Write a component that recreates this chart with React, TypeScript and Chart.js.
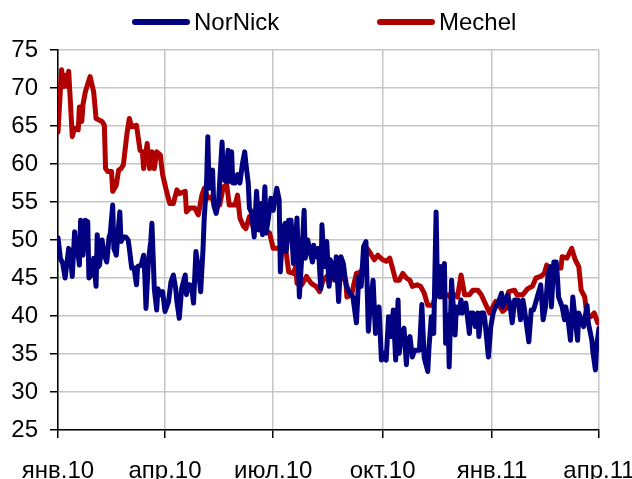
import React, { useEffect, useRef } from 'react';
import { Chart, registerables } from 'chart.js';

Chart.register(...registerables);

// x values are days counted from 1 Jan 2010
const TICK_DAYS = [0, 90, 181, 273, 365, 455];
const TICK_LABELS = ['янв.10', 'апр.10', 'июл.10', 'окт.10', 'янв.11', 'апр.11'];

const SERIES_NAMES = ['NorNick', 'Mechel'];

const NOR_DAYS = [
  0, 2, 4, 6, 7, 9, 11, 12, 14, 15, 17, 18, 19, 21, 23, 25, 26, 28, 30, 32,
  33, 34, 35, 37, 39, 41, 43, 44, 46, 47, 49, 51, 52, 53, 55, 57, 59, 60, 62, 64,
  66, 67, 70, 72, 73, 74, 76, 78, 79, 81, 83, 84, 86, 88, 90, 93, 95, 97, 99, 100,
  102, 104, 107, 108, 109, 111, 113, 114, 116, 118, 120, 122, 123, 125, 126, 127, 130, 131, 133, 135,
  138, 139, 141, 143, 144, 146, 147, 149, 151, 153, 155, 157, 158, 160, 161, 163, 165, 167, 169, 171,
  172, 174, 175, 177, 179, 181, 182, 184, 186, 187, 189, 191, 192, 194, 196, 198, 199, 201, 203, 205,
  207, 208, 210, 212, 214, 215, 217, 219, 221, 222, 224, 226, 228, 229, 231, 233, 234, 236, 238, 240,
  242, 244, 248, 251, 253, 255, 257, 259, 261, 263, 265, 267, 269, 270, 272, 274, 276, 278, 280, 282,
  284, 286, 287, 289, 291, 293, 294, 296, 298, 300, 304, 306, 308, 311, 312, 314, 315, 316, 318, 319,
  321, 322, 323, 325, 326, 328, 329, 331, 332, 334, 335, 337, 339, 340, 343, 346, 347, 349, 351, 353,
  354, 356, 358, 359, 362, 364, 366, 368, 370, 372, 373, 374, 378, 380, 382, 384, 387, 389, 391, 392,
  396, 398, 400, 404, 406, 408, 410, 412, 414, 415, 417, 419, 420, 421, 424, 426, 427, 429, 431, 433,
  435, 437, 438, 440, 442, 445, 446, 449, 450, 452, 453, 455,
];
const NOR_VALUES = [
  50.3, 47.6, 46.9, 45, 46.3, 48.9, 47.1, 45.2, 51.1, 49.3, 48, 46.7, 52.6, 48, 52.6, 52.4, 45, 45.4, 47.6, 43.9,
  50.7, 46.5, 46.7, 50, 48, 47.1, 50.4, 50.9, 54.6, 48.9, 48, 51.9, 53.7, 49.8, 50.4, 50.4, 50, 48.9, 46.3, 46.3,
  44.1, 46.5, 46.7, 48, 45.4, 41, 47.1, 49.8, 52.2, 43.6, 40.8, 43.6, 42.8, 43.2, 40.6, 41.9, 44.5, 45.4, 43.6, 41.9,
  39.7, 43.6, 45.4, 42.8, 44.1, 44.1, 43, 41.7, 48.5, 46.3, 43.2, 48.9, 52.9, 57.7, 63.6, 56.8, 59.2, 54.6, 53.5, 55,
  62.9, 58.1, 57.7, 61.8, 57.7, 61.6, 57.5, 57.5, 58.6, 57.5, 59.9, 61.6, 60.1, 57.5, 54.2, 53.5, 50.4, 56.4, 51.3, 54.8,
  50.7, 57, 50.9, 52.9, 55.5, 53.9, 55, 56.8, 55.3, 45.8, 51.3, 52.2, 48.5, 52.6, 52.6, 46.9, 48.2, 52.9, 42.5, 47.8,
  53.9, 47.6, 50, 48.5, 47.1, 49.3, 47.8, 48.9, 43.6, 52, 46.5, 49.8, 43.9, 47.4, 46.5, 44.7, 47.8, 41.9, 47.8, 46.9,
  44.3, 43.4, 42.5, 39.1, 45.2, 43.9, 49.1, 49.8, 38, 42.1, 44.7, 37.7, 39.1, 41.2, 34.2, 35.1, 34.2, 39.9, 37.3, 40.8,
  34.2, 42.1, 35.1, 37.7, 38.4, 33.6, 36.8, 37.3, 34.6, 35.5, 35.5, 41.5, 34.5, 32.7, 35.8, 39.9, 38.2, 37.7, 53.7, 44.7,
  42.5, 46.5, 43.9, 46.9, 36.4, 40.1, 33.3, 44.7, 42.3, 37.5, 41.2, 40.4, 42.1, 40.4, 41.7, 37.7, 40.4, 40.4, 38.6, 40.4,
  37.3, 40.4, 40.4, 39.5, 34.6, 38.6, 40.4, 41.2, 41.7, 42.5, 43, 41.2, 42.8, 41.7, 39.1, 42.1, 42.1, 39.5, 42.1, 41.2,
  36.6, 40.8, 40.8, 43, 44.1, 39.5, 41.2, 45.2, 46.5, 41.2, 47.1, 47.1, 45.2, 42.5, 41.2, 39.5, 41.2, 39.5, 36.8, 42.5,
  39.5, 36.8, 40.4, 39.5, 38.6, 41.4, 39.1, 36.8, 35.1, 32.9, 36, 38.4,
];

const MEC_DAYS = [
  0, 3, 5, 7, 8, 9, 12, 14, 17, 18, 20, 21, 23, 27, 30, 32, 37, 39, 40, 42,
  45, 46, 49, 51, 53, 55, 58, 60, 62, 66, 69, 71, 72, 75, 77, 79, 81, 83, 86, 88,
  91, 94, 97, 100, 102, 107, 108, 111, 115, 118, 121, 123, 126, 129, 132, 136, 139, 142, 144, 149,
  151, 153, 156, 158, 161, 164, 168, 172, 175, 178, 181, 185, 189, 192, 194, 198, 200, 201, 205, 209,
  213, 217, 220, 223, 226, 228, 231, 234, 238, 242, 243, 247, 249, 251, 255, 258, 260, 263, 266, 269,
  273, 276, 279, 281, 284, 287, 290, 293, 296, 298, 302, 305, 308, 311, 315, 318, 321, 323, 328, 331,
  333, 336, 339, 342, 346, 349, 353, 356, 358, 363, 365, 368, 371, 374, 377, 379, 384, 386, 391, 395,
  399, 402, 406, 409, 411, 414, 417, 420, 423, 424, 428, 432, 435, 438, 440, 443, 445, 448, 451, 454,
];
const MEC_VALUES = [
  64.2, 72.4, 70.2, 71.7, 70.2, 72.2, 63.6, 64.7, 64.5, 67.5, 65.6, 67.8, 69.5, 71.5, 69.5, 66, 65.6, 65.1, 59.4, 59,
  59, 56.4, 57.2, 59.2, 59.4, 59.9, 64, 66, 64.9, 65.1, 61.8, 61.6, 59.4, 62.7, 59.4, 61.6, 59.4, 61.6, 61.2, 58.6,
  56.6, 54.8, 54.8, 56.6, 56.1, 56.4, 53.7, 54.2, 54.2, 53.3, 55.9, 56.8, 55.5, 55.7, 54.6, 54.6, 57, 57.2, 54.6, 54.6,
  55.9, 52.9, 51.8, 51.5, 53.1, 51.8, 51.8, 52, 51.3, 50.9, 48.9, 48.9, 48.9, 48.2, 45.8, 45.6, 46.5, 44.3, 44.1, 45.2,
  44.3, 43.9, 43.2, 44.7, 45.2, 44.3, 45.4, 45.5, 45, 44.7, 42.5, 42.8, 44.3, 45.6, 45.8, 47.4, 48.9, 48.2, 47.4, 48,
  47.4, 47.2, 47.6, 46.5, 44.7, 44.7, 45.6, 45, 44.7, 43.9, 44.1, 43.9, 43, 41.4, 41.4, 42.8, 43, 42.5, 42.8, 42.3,
  42.8, 42.5, 45.4, 42.8, 42.8, 43.4, 43.4, 42.8, 42.1, 40.4, 41, 41.9, 41.4, 40.6, 41, 43.2, 43.4, 42.8, 42.8, 43.6,
  43.9, 45, 45.2, 45.6, 46.7, 45.2, 45.6, 46.3, 46.3, 47.8, 47.6, 48.9, 47.4, 46.5, 43.4, 42.5, 39.9, 39.9, 40.4, 39.1,
];

const COLORS = ['#000080', '#b00000'];
const FONT = "'Liberation Sans', Arial, sans-serif";
const FONT_SIZE = 24;
const LEGEND_X = [132, 377];
const LEGEND_Y = 22;

const legendPlugin = {
  id: 'lineLegend',
  afterDraw(chart: any) {
    const ctx = chart.ctx;
    ctx.save();
    ctx.font = `${FONT_SIZE}px ${FONT}`;
    ctx.textBaseline = 'middle';
    ctx.textAlign = 'left';
    chart.data.datasets.forEach((ds: any, i: number) => {
      const x = LEGEND_X[i];
      ctx.strokeStyle = ds.borderColor;
      ctx.lineWidth = 6;
      ctx.lineCap = 'round';
      ctx.beginPath();
      ctx.moveTo(x + 3, LEGEND_Y);
      ctx.lineTo(x + 55, LEGEND_Y);
      ctx.stroke();
      ctx.fillStyle = '#000';
      ctx.fillText(ds.label, x + 62, LEGEND_Y + 1);
    });
    ctx.restore();
  },
};

export default function App() {
  const canvasRef = useRef<HTMLCanvasElement | null>(null);

  useEffect(() => {
    if (!canvasRef.current) return;
    const tickFont = { size: FONT_SIZE, family: FONT };
    const grid = { color: '#c6c6c6', lineWidth: 1.5, tickColor: '#000', tickLength: 8, tickWidth: 1.5 };
    const border = { color: '#000', width: 1.5 };
    const chart = new Chart(canvasRef.current, {
      type: 'line',
      data: {
        datasets: [
          {
            label: SERIES_NAMES[0],
            data: NOR_DAYS.map((d, i) => ({ x: d, y: NOR_VALUES[i] })),
            borderColor: COLORS[0],
            backgroundColor: COLORS[0],
            borderWidth: 5,
          },
          {
            label: SERIES_NAMES[1],
            data: MEC_DAYS.map((d, i) => ({ x: d, y: MEC_VALUES[i] })),
            borderColor: COLORS[1],
            backgroundColor: COLORS[1],
            borderWidth: 5,
          },
        ],
      },
      options: {
        responsive: false,
        animation: false,
        layout: { padding: { top: 50, right: 61, bottom: 0, left: 0 } },
        plugins: { legend: { display: false }, tooltip: { enabled: false } },
        elements: {
          point: { radius: 0 },
          line: { tension: 0, borderJoinStyle: 'round', borderCapStyle: 'round' },
        },
        scales: {
          x: {
            type: 'linear',
            min: 0,
            max: 455,
            afterBuildTicks: (s: any) => {
              s.ticks = TICK_DAYS.map((v) => ({ value: v }));
            },
            afterFit: (s: any) => {
              s.height = 70;
            },
            ticks: {
              autoSkip: false,
              maxRotation: 0,
              minRotation: 0,
              padding: 19,
              color: '#000',
              font: tickFont,
              callback: (v: any) => {
                const i = TICK_DAYS.indexOf(Number(v));
                return i >= 0 ? TICK_LABELS[i] : '';
              },
            },
            grid,
            border,
          },
          y: {
            min: 25,
            max: 75,
            afterFit: (s: any) => {
              s.width = 58;
            },
            ticks: { stepSize: 5, padding: 12, color: '#000', font: tickFont },
            grid,
            border,
          },
        },
      },
      plugins: [legendPlugin],
    } as any);
    return () => chart.destroy();
  }, []);

  return (
    <div
      style={{
        position: 'fixed',
        left: 0,
        top: 0,
        width: 632,
        height: 479,
        overflow: 'hidden',
        background: '#fff',
      }}
    >
      <canvas ref={canvasRef} width={660} height={500} style={{ display: 'block' }} />
    </div>
  );
}
